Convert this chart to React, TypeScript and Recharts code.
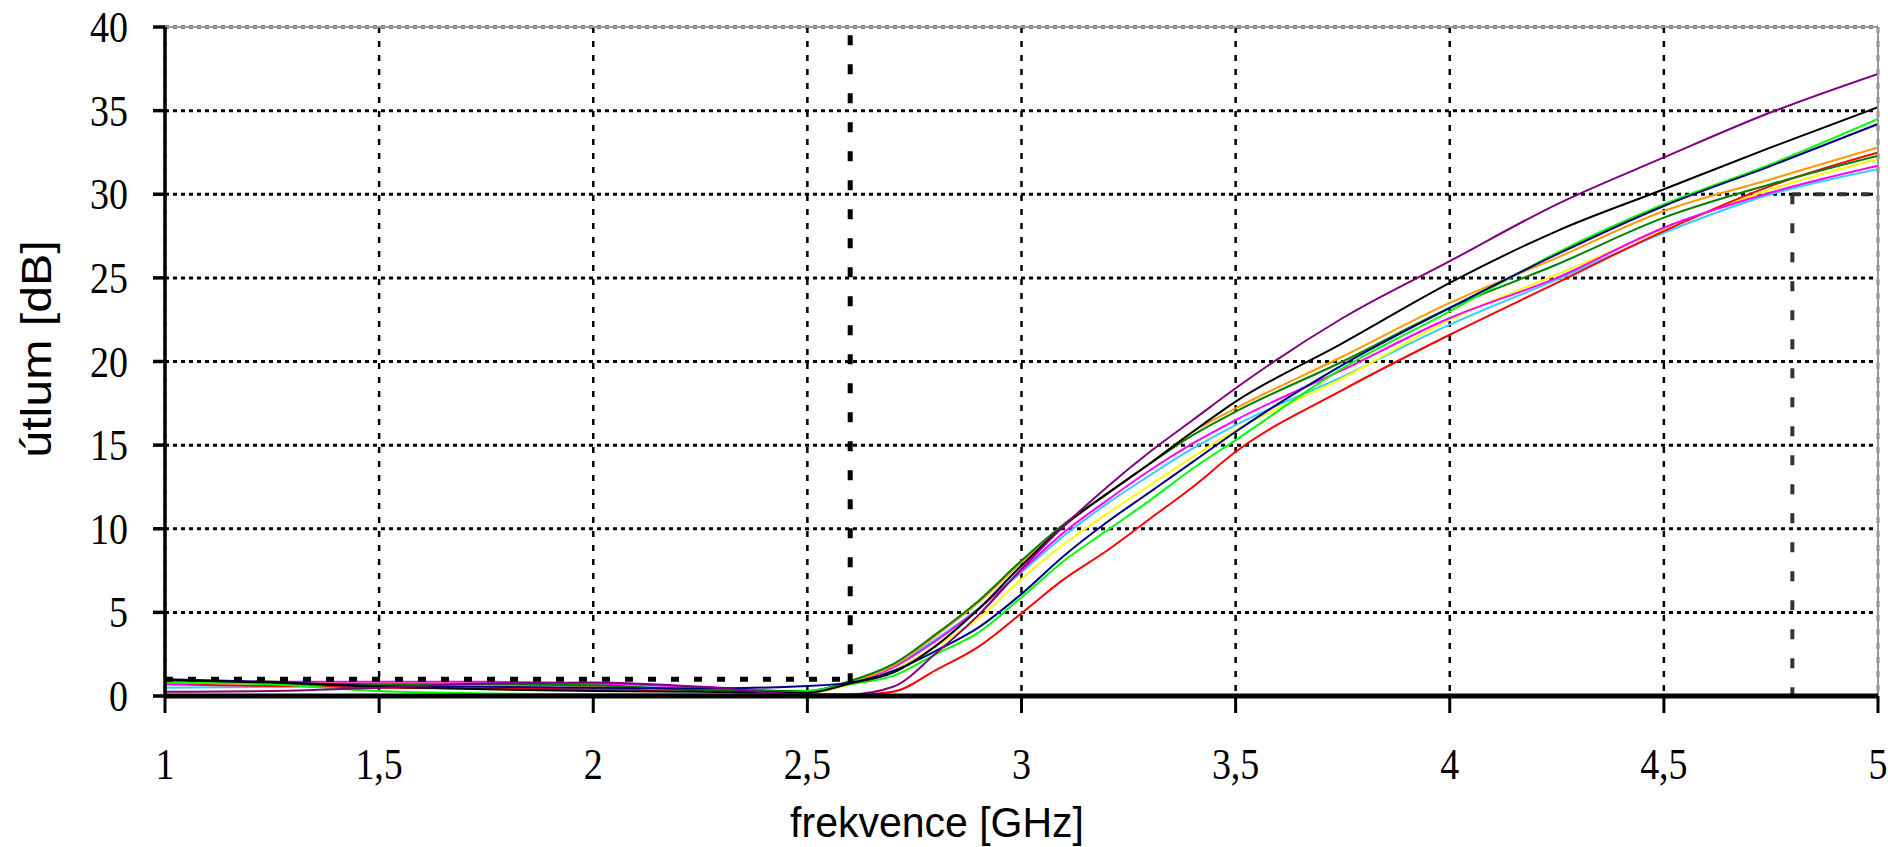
import React from 'react'
import {
  LineChart,
  Line,
  XAxis,
  YAxis,
  CartesianGrid,
  ReferenceLine
} from 'recharts'

// frequency points in GHz
const freq = [1, 1.25, 1.5, 1.75, 2, 2.25, 2.5, 2.6, 2.7, 2.8, 2.9, 3.0, 3.1, 3.2, 3.3, 3.4, 3.5, 3.75, 4.0, 4.25, 4.5, 4.75, 5.0]

// attenuation in dB, one list per measured filter
const cyan = [0.5, 0.55, 0.75, 0.75, 0.6, 0.45, 0.15, 0.8, 1.8, 3.4, 5.25, 7.4, 9.6, 11.5, 13.2, 14.8, 16.2, 19.1, 22.2, 24.9, 27.7, 30.0, 31.5]
const yellow = [0.9, 0.85, 0.8, 0.75, 0.6, 0.3, 0.2, 0.7, 1.5, 3.0, 4.65, 7.0, 9.1, 10.9, 12.6, 14.3, 15.9, 19.0, 22.5, 25.2, 27.9, 30.3, 32.1]
const red = [0.7, 0.6, 0.5, 0.45, 0.4, 0.3, 0.05, 0.05, 0.25, 1.55, 2.95, 4.95, 7.0, 8.7, 10.6, 12.5, 14.6, 18.3, 21.6, 24.7, 27.8, 30.5, 32.5]
const magenta = [0.7, 0.85, 0.85, 0.85, 0.75, 0.55, 0.25, 0.8, 1.7, 3.3, 5.2, 7.5, 9.8, 11.7, 13.5, 15.1, 16.5, 19.5, 22.6, 25.0, 28.0, 30.1, 31.7]
const orange = [0.8, 0.75, 0.7, 0.7, 0.6, 0.3, 0.2, 0.8, 1.8, 3.6, 5.6, 8.0, 10.2, 12.1, 13.9, 15.8, 17.2, 20.3, 23.5, 26.2, 29.0, 30.9, 32.8]
const darkGreen = [0.9, 0.75, 0.7, 0.7, 0.65, 0.35, 0.3, 0.9, 1.9, 3.7, 5.7, 8.1, 10.3, 12.1, 13.9, 15.6, 17.0, 20.0, 23.2, 25.8, 28.6, 30.6, 32.3]
const lime = [0.85, 0.7, 0.3, 0.15, 0.1, 0.1, 0.3, 0.7, 1.2, 2.5, 3.8, 5.9, 8.1, 9.9, 11.7, 13.6, 15.3, 19.6, 23.0, 26.5, 29.4, 31.8, 34.5]
const navy = [1.0, 0.85, 0.6, 0.55, 0.5, 0.45, 0.6, 0.8, 1.5, 2.7, 4.1, 6.1, 8.4, 10.4, 12.2, 14.0, 15.8, 19.8, 23.2, 26.4, 29.3, 31.7, 34.2]
const black = [0.95, 0.8, 0.55, 0.4, 0.3, 0.25, 0.2, 0.75, 1.4, 3.0, 5.2, 7.8, 10.2, 12.1, 13.9, 15.8, 17.6, 21.1, 24.7, 27.8, 30.3, 32.8, 35.2]
const purple = [0.25, 0.3, 0.5, 0.75, 0.8, 0.55, 0.1, 0.1, 0.55, 2.55, 4.85, 7.6, 10.2, 12.5, 14.6, 16.5, 18.4, 22.6, 26.0, 29.4, 32.2, 34.9, 37.2]

const xTicks = [1, 1.5, 2, 2.5, 3, 3.5, 4, 4.5, 5]
const yTicks = [0, 5, 10, 15, 20, 25, 30, 35, 40]

const series = [
  { key: 'cyan', color: '#33CCFF', values: cyan },
  { key: 'yellow', color: '#FFFF00', values: yellow },
  { key: 'red', color: '#FF0000', values: red },
  { key: 'magenta', color: '#FF00FF', values: magenta },
  { key: 'orange', color: '#FF9900', values: orange },
  { key: 'darkGreen', color: '#008000', values: darkGreen },
  { key: 'lime', color: '#00FF00', values: lime },
  { key: 'navy', color: '#000080', values: navy },
  { key: 'black', color: '#000000', values: black },
  { key: 'purple', color: '#800080', values: purple }
]

const data = freq.map((f, i) => {
  const row: Record<string, number> = { f }
  series.forEach(s => { row[s.key] = s.values[i] })
  return row
})

const serif = '"Liberation Serif", "Times New Roman", serif'
const sans = '"Liberation Sans", Arial, sans-serif'

const fmt = (v: number) => String(v).replace('.', ',')

const YTick = (props: any) => {
  const { x, y, payload } = props
  return (
    <text
      transform={`translate(${x},${y}) scale(1,1.17)`}
      textAnchor="end"
      dy="0.34em"
      fontFamily={serif}
      fontSize={38}
      fill="#000"
    >
      {fmt(payload.value)}
    </text>
  )
}

const XTick = (props: any) => {
  const { x, y, payload } = props
  return (
    <text
      transform={`translate(${x},${y + 51}) scale(1,1.17)`}
      textAnchor="middle"
      dy="0.34em"
      fontFamily={serif}
      fontSize={38}
      fill="#000"
    >
      {fmt(payload.value)}
    </text>
  )
}

const XTitle = () => (
  <text
    transform="translate(937,821) scale(1,1.05)"
    textAnchor="middle"
    dy="0.36em"
    fontFamily={sans}
    fontSize={41}
    fill="#000"
  >
    frekvence [GHz]
  </text>
)

const YTitle = () => (
  <text
    transform="translate(36,349) rotate(-90) scale(1.15,1)"
    textAnchor="middle"
    dy="0.36em"
    fontFamily={sans}
    fontSize={42}
    fill="#000"
  >
    útlum [dB]
  </text>
)

export default function App() {
  return (
    <div style={{ position: 'absolute', left: 0, top: 0, width: 1888, height: 847, background: '#fff' }}>
      <LineChart
        width={1888}
        height={847}
        data={data}
        margin={{ top: 27, right: 10, left: 0, bottom: 0 }}
      >
        <CartesianGrid
          vertical={false}
          stroke="#000"
          strokeWidth={3}
          strokeDasharray="4 4"
        />
        <CartesianGrid
          horizontal={false}
          stroke="#000"
          strokeWidth={2.5}
          strokeDasharray="6 8"
        />
        <XAxis
          type="number"
          dataKey="f"
          domain={[1, 5]}
          ticks={xTicks}
          allowDataOverflow
          height={151}
          tickSize={17}
          tickMargin={0}
          axisLine={{ stroke: '#000', strokeWidth: 5 }}
          tickLine={{ stroke: '#000', strokeWidth: 3 }}
          tick={<XTick />}
          label={{ content: <XTitle /> }}
        />
        <YAxis
          type="number"
          domain={[0, 40]}
          ticks={yTicks}
          allowDataOverflow
          width={165}
          tickSize={12}
          tickMargin={25}
          axisLine={{ stroke: '#000', strokeWidth: 3.5 }}
          tickLine={{ stroke: '#000', strokeWidth: 3.5 }}
          tick={<YTick />}
          label={{ content: <YTitle /> }}
        />
        {series.map(s => (
          <Line
            key={s.key}
            type="monotone"
            dataKey={s.key}
            stroke={s.color}
            strokeWidth={2}
            dot={false}
            activeDot={false}
            isAnimationActive={false}
          />
        ))}
        <ReferenceLine y={40} stroke="#999" strokeWidth={2} />
        <ReferenceLine x={5} stroke="#999" strokeWidth={2} />
        <ReferenceLine y={0} stroke="#555" strokeWidth={2} strokeDasharray="9 10" />
        <ReferenceLine
          segment={[{ x: 1, y: 1 }, { x: 2.6, y: 1 }]}
          stroke="#000"
          strokeWidth={5}
          strokeDasharray="8 15"
        />
        <ReferenceLine
          segment={[{ x: 2.6, y: 39.5 }, { x: 2.6, y: 0.8 }]}
          stroke="#000"
          strokeWidth={5}
          strokeDasharray="10 19"
        />
        <ReferenceLine
          segment={[{ x: 4.8, y: 30 }, { x: 4.8, y: 0 }]}
          stroke="#333"
          strokeWidth={4}
          strokeDasharray="10 19"
        />
        <ReferenceLine
          segment={[{ x: 4.8, y: 30 }, { x: 5, y: 30 }]}
          stroke="#333"
          strokeWidth={4}
          strokeDasharray="8 15"
        />
      </LineChart>
    </div>
  )
}
